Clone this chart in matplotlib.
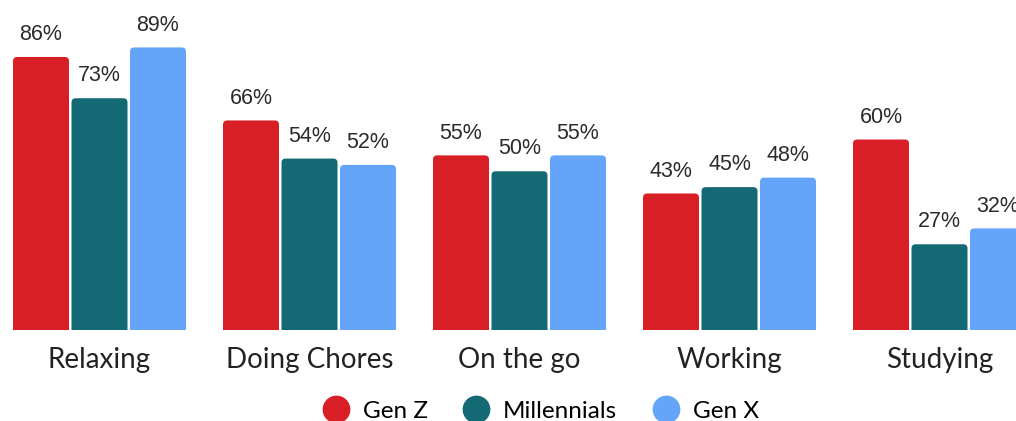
import matplotlib
matplotlib.use("Agg")
import matplotlib.pyplot as plt
from matplotlib.patches import FancyBboxPatch
from matplotlib.lines import Line2D
import numpy as np

categories = ["Relaxing", "Doing Chores", "On the go", "Working", "Studying"]
series_names = ["Gen Z", "Millennials", "Gen X"]
gen_z = [86, 66, 55, 43, 60]
millennials = [73, 54, 50, 45, 27]
gen_x = [89, 52, 55, 48, 32]
colors = ["#D91F26", "#136A75", "#64A5FA"]

W, H = 1016, 421
fig = plt.figure(figsize=(W / 100, H / 100), dpi=100)
# axes spans past the right edge (chart is cropped in the reference)
left_px, right_px = -5.5, 1044.5
bottom_px = 91
height_px = 317.5
ax = fig.add_axes([left_px / W, bottom_px / H, (right_px - left_px) / W, height_px / H])
ax.set_xlim(-0.5, 4.5)
ax.set_ylim(0, 100)
ax.axis("off")

x = np.arange(len(categories))
pitch = 58.5 / 210
width = 56 / 210
mut_aspect = (100 / height_px) / (5 / (right_px - left_px))

val_font = ["Liberation Sans", "DejaVu Sans"]
cat_font = ["Lato", "DejaVu Sans"]

for k, (vals, col) in enumerate(zip([gen_z, millennials, gen_x], colors)):
    bars = ax.bar(x + (k - 1) * pitch, vals, width=width, color=col)
    for rect, v in zip(bars, vals):
        rect.set_visible(False)
        p = FancyBboxPatch((rect.get_x(), -4), rect.get_width(), v + 4,
                           boxstyle="round,pad=0,rounding_size=0.02",
                           mutation_aspect=mut_aspect,
                           facecolor=col, edgecolor="none", clip_on=True)
        ax.add_patch(p)
        ax.annotate(f"{v}%", (rect.get_x() + rect.get_width() / 2, v),
                    xytext=(0, 8.5), textcoords="offset points",
                    ha="center", va="bottom", fontsize=15.5,
                    color="#2b2b2b", family=val_font, annotation_clip=False)

for xi, c in zip(x, categories):
    ax.text(xi, -9.3, c, ha="center", va="center", fontsize=20,
            color="#222222", family=cat_font, clip_on=False)

handles = [Line2D([], [], marker="o", linestyle="none", markersize=20,
                  markerfacecolor=c, markeredgecolor="none") for c in colors]
fig.legend(handles, series_names, loc="center", bbox_to_anchor=(540 / W, 10 / H),
           ncol=3, frameon=False, prop={"family": cat_font, "size": 17.5},
           handletextpad=0.5, columnspacing=1.4, handlelength=1.2)

fig.savefig("out.png", dpi=100)
